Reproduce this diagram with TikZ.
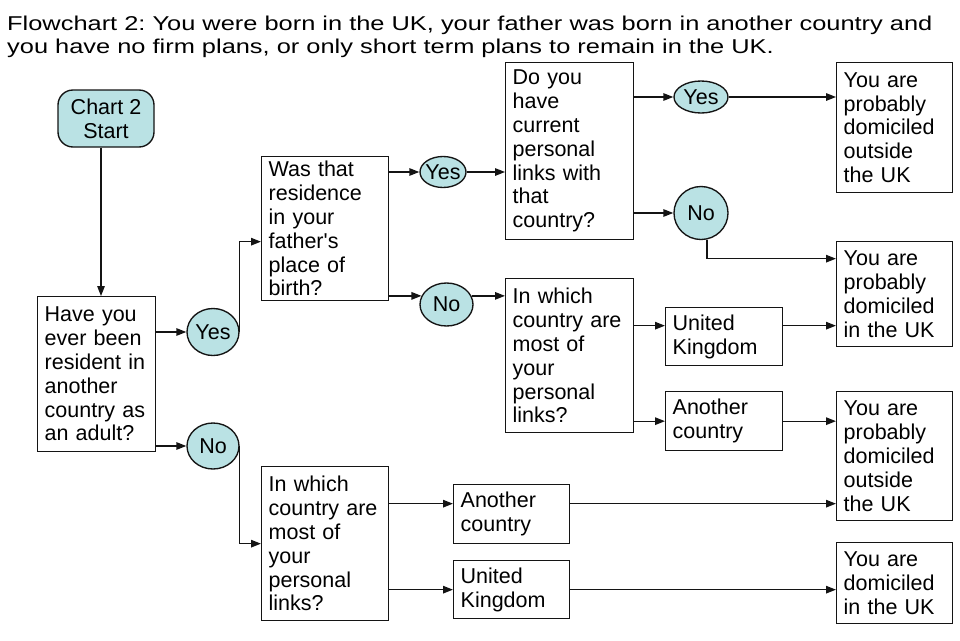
\documentclass[tikz,border=0pt]{standalone}
\usepackage{fontspec}
\setmainfont{Liberation Sans}
\usepackage{graphicx}
\usetikzlibrary{arrows.meta,shapes.geometric}
\definecolor{ovalfill}{RGB}{186,226,228}
\definecolor{linecol}{RGB}{20,20,20}
\newcommand{\boxfont}{\fontsize{21.5}{23.8}\selectfont}
\frenchspacing
\begin{document}
\frenchspacing
\begin{tikzpicture}[x=1pt,y=-1pt,
  box/.style={draw=linecol, line width=1.35pt, anchor=north west, align=left, inner xsep=7pt, inner ysep=0pt, font=\boxfont},
  oval/.style={draw=linecol, line width=1.35pt, ellipse, fill=ovalfill, inner sep=0pt, font=\boxfont},
  startbox/.style={draw=linecol, line width=1.35pt, fill=ovalfill, rounded corners=15pt, align=center, inner sep=0pt, font=\boxfont},
  arr/.style={draw=linecol, line width=1.35pt, -{Triangle[length=10pt,width=7.5pt]}},
  ttl/.style={anchor=base west, inner sep=0pt, font=\fontsize{20}{23}\selectfont}
]
\useasboundingbox[fill=white] (0,0) rectangle (960,640);

% title
\node[ttl] (t1) at (7,30) {\scalebox{1.27}[1]{Flowchart 2: You were born in the UK, your father was born in another country and}};
\node[ttl] (t2) at (7,53) {\scalebox{1.27}[1]{you have no firm plans, or only short term plans to remain in the UK.}};

% start
\node[startbox, minimum width=96pt, minimum height=57pt] (st) at (106,118.5) {Chart 2\\Start};

% boxes
\node[box, minimum width=118pt, minimum height=155pt, text width=104pt] (b1) at (37,296) {Have you\\ever been\\resident in\\another\\country as\\an adult?};
\node[box, minimum width=127pt, minimum height=144pt, text width=113pt] (b2) at (261,156) {Was that\\residence\\in your\\father\textquotesingle s\\place of\\birth?};
\node[box, minimum width=128pt, minimum height=177pt, text width=114pt] (b3) at (505,62) {Do you\\have\\current\\personal\\links with\\that\\country?};
\node[box, minimum width=128pt, minimum height=154pt, text width=114pt] (b4) at (505,278) {In which\\country are\\most of\\your\\personal\\links?};
\node[box, minimum width=127pt, minimum height=154pt, text width=113pt] (b5) at (261,466) {In which\\country are\\most of\\your\\personal\\links?};

\node[box, minimum width=117pt, minimum height=58pt, text width=103pt] (uk1) at (665,307) {United\\Kingdom};
\node[box, minimum width=117pt, minimum height=59pt, text width=103pt] (an1) at (665,391) {Another\\country};
\node[box, minimum width=116pt, minimum height=59pt, text width=102pt] (an2) at (453,484) {Another\\country};
\node[box, minimum width=116pt, minimum height=58pt, text width=102pt] (uk2) at (453,560) {United\\Kingdom};

\node[box, minimum width=116pt, minimum height=130pt, text width=102pt] (r1) at (836,62) {You are\\probably\\domiciled\\outside\\the UK};
\node[box, minimum width=116pt, minimum height=105pt, text width=102pt] (r2) at (836,241) {You are\\probably\\domiciled\\in the UK};
\node[box, minimum width=116pt, minimum height=129pt, text width=102pt] (r3) at (836,391) {You are\\probably\\domiciled\\outside\\the UK};
\node[box, minimum width=116pt, minimum height=81pt, text width=102pt] (r4) at (836,542) {You are\\domiciled\\in the UK};

% ovals
\node[oval, minimum width=52pt, minimum height=47pt] (y1) at (213,332) {\makebox[0pt]{Yes}};
\node[oval, minimum width=52pt, minimum height=46pt] (n1) at (213,446) {\makebox[0pt]{No}};
\node[oval, minimum width=46pt, minimum height=31pt] (y2) at (443,172) {\makebox[0pt]{Yes}};
\node[oval, minimum width=53pt, minimum height=43pt] (n2) at (446.5,304.5) {\makebox[0pt]{No}};
\node[oval, minimum width=54pt, minimum height=32pt] (y3) at (701,97) {\makebox[0pt]{Yes}};
\node[oval, minimum width=54pt, minimum height=53pt] (n3) at (701,213) {\makebox[0pt]{No}};

% helper coordinates
\coordinate (sx) at (101,0);
\coordinate (b2in) at ([yshift=-13pt]b2.west);
\coordinate (r2in) at ([yshift=35.5pt]r2.west);
\coordinate (u1in) at ([yshift=11pt]uk1.west);
\coordinate (u1out) at ([yshift=11pt]uk1.east);
\coordinate (a2in) at ([yshift=10.5pt]an2.west);
\coordinate (a2out) at ([yshift=10.5pt]an2.east);

% connectors
\draw[arr] (st.south -| sx) -- (b1.north -| sx);
\draw[arr] (b1.east |- y1.west) -- (y1.west);
\draw[arr] (b1.east |- n1.west) -- (n1.west);
\draw[arr] (y1.east) |- (b2in);
\draw[arr] (n1.east) |- (b5.west);
\draw[arr] (b2.east |- y2.west) -- (y2.west);
\draw[arr] (y2.east) -- (y2.east -| b3.west);
\draw[arr] (b2.east |- n2.161) -- (n2.161);
\draw[arr] (n2.19) -- (n2.19 -| b4.west);
\draw[arr] (b3.east |- y3.west) -- (y3.west);
\draw[arr] (y3.east) -- (y3.east -| r1.west);
\draw[arr] (b3.east |- n3.west) -- (n3.west);
\draw[arr] (n3.-77) |- (r2in);
\draw[arr] (u1in -| b4.east) -- (u1in);
\draw[arr] (u1out) -- (u1out -| r2.west);
\draw[arr] (an1.west -| b4.east) -- (an1.west);
\draw[arr] (an1.east) -- (an1.east -| r3.west);
\draw[arr] (a2in -| b5.east) -- (a2in);
\draw[arr] (a2out) -- (a2out -| r3.west);
\draw[arr] (uk2.west -| b5.east) -- (uk2.west);
\draw[arr] (uk2.east) -- (uk2.east -| r4.west);
\end{tikzpicture}
\end{document}
